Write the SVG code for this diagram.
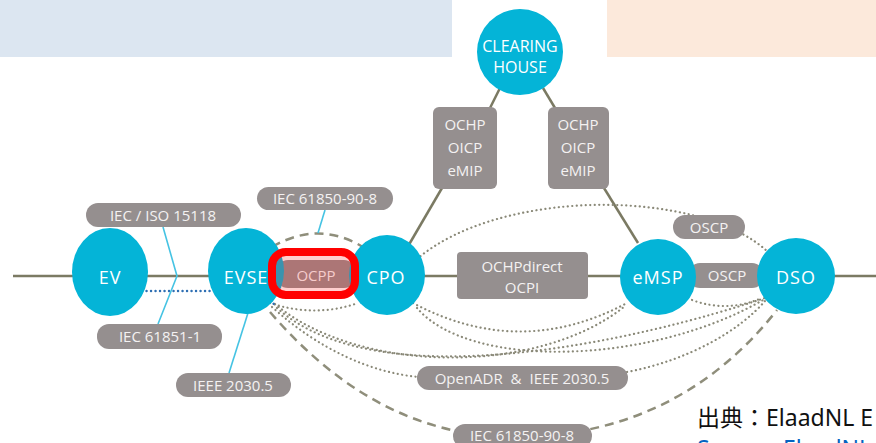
<svg xmlns="http://www.w3.org/2000/svg" width="876" height="443" viewBox="0 0 876 443">
<style>
.bg-blue{fill:#dce6f1}
.bg-peach{fill:#fce9db}
.circ{fill:#04b4d7}
.ntext{fill:#ffffff;font-family:"Open Sans","Noto Sans",sans-serif;font-size:18px;letter-spacing:1px;text-anchor:middle;dominant-baseline:central}
.chtext{fill:#ffffff;font-family:"Open Sans","Noto Sans",sans-serif;font-size:16px;text-anchor:middle;dominant-baseline:central}
.pill{fill:#958f8f}
.ptext{fill:#f4f2f2;font-family:"Open Sans","Noto Sans",sans-serif;font-size:15px;text-anchor:middle;dominant-baseline:central}
.main{stroke:#7b7a63;stroke-width:2.5;fill:none}
.solid{stroke:#7b7a63;stroke-width:2.5;fill:none}
.dash{stroke:#8f8e7b;stroke-width:2.5;fill:none;stroke-dasharray:9 6}
.dot{stroke:#8a8978;stroke-width:2.2;fill:none;stroke-dasharray:0.1 4.4;stroke-linecap:round}
.bdot{stroke:#2f6fb3;stroke-width:2.4;fill:none;stroke-dasharray:0.1 4.4;stroke-linecap:round}
.cyan{stroke:#45c3e3;stroke-width:1.6;fill:none}
.src{font-family:"Noto Sans","Noto Sans CJK JP",sans-serif;font-size:23px}
</style>
<rect class="bg-blue" x="0" y="0" width="452" height="57"/>
<rect class="bg-peach" x="607" y="0" width="269" height="57"/>

<g id="connectors">
  <line class="main" x1="13" y1="276" x2="876" y2="276"/>
  <line class="solid" x1="490" y1="108" x2="500" y2="88"/>
  <line class="solid" x1="555" y1="108" x2="543" y2="88"/>
  <line class="solid" x1="442" y1="188" x2="407" y2="248"/>
  <line class="solid" x1="604" y1="188" x2="638" y2="243"/>
  <path class="dash" d="M272,247 Q318,220 363,247"/>
  <path class="dash" d="M270,312 Q380,440 522,437 Q680,433 777,310"/>
  <path class="dot" d="M417,259 C500,188 700,188 768,252"/>
  <path class="dot" d="M270,303 Q315,318 358,303"/>
  <path class="dot" d="M413,303 Q520,360 627,303"/>
  <path class="dot" d="M417,308 C470,370 650,365 763,300"/>
  <path class="dot" d="M275,304 C360,375 540,375 625,306"/>
  <path class="dot" d="M277,308 C380,400 640,340 765,298"/>
  <path class="dot" d="M272,307 C320,350 370,372 418,377"/>
  <path class="dot" d="M627,372 C690,360 740,330 765,301"/>
  <path class="dot" d="M692,300 Q727,313 762,298"/>
  <path class="bdot" d="M97,291 L245,291 Q262,292 276,306"/>
  <polyline class="cyan" points="163,227 177,276 158,324"/>
  <line class="cyan" x1="248" y1="313" x2="229" y2="373"/>
  <line class="cyan" x1="325" y1="210" x2="318" y2="233"/>
</g>

<g id="ocpp-label">
  <rect class="pill" x="276" y="260" width="80" height="28" rx="12"/>
</g>
<g id="oscp-bottom">
  <rect class="pill" x="688" y="263" width="76" height="25" rx="12"/>
</g>

<g id="ev"><ellipse class="circ" cx="110" cy="272" rx="38" ry="44"/><text class="ntext" x="110" y="277">EV</text></g>
<g id="evse"><ellipse class="circ" cx="246" cy="271" rx="38" ry="43"/><text class="ntext" x="246" y="277">EVSE</text></g>
<g id="cpo"><ellipse class="circ" cx="387" cy="275" rx="38" ry="40"/><text class="ntext" x="386" y="277">CPO</text></g>
<g id="emsp"><ellipse class="circ" cx="658" cy="277" rx="38" ry="38"/><text class="ntext" x="658" y="277">eMSP</text></g>
<g id="dso"><ellipse class="circ" cx="796" cy="276" rx="39" ry="38"/><text class="ntext" x="796" y="277">DSO</text></g>
<g id="clearing-house"><ellipse class="circ" cx="520" cy="52" rx="43" ry="43"/><text class="chtext" x="520" y="46">CLEARING</text><text class="chtext" x="520" y="67">HOUSE</text></g>

<g id="ocpp-highlight">
  <rect x="272" y="252" width="83" height="43" rx="14" fill="#ff2020" fill-opacity="0.22"/>
  <rect x="272" y="252" width="83" height="43" rx="14" fill="none" stroke="#ff0000" stroke-width="8"/>
  <text class="ptext" x="316" y="275" style="fill:#f6cccc">OCPP</text>
</g>
<g id="oscp-bottom-text"><text class="ptext" x="727" y="275">OSCP</text></g>

<g id="iec15118"><rect class="pill" x="86" y="203" width="155" height="24" rx="12"/><text class="ptext" x="163" y="215">IEC / ISO 15118</text></g>
<g id="iec61851"><rect class="pill" x="97" y="324" width="125" height="25" rx="12"/><text class="ptext" x="160" y="336">IEC 61851-1</text></g>
<g id="ieee2030"><rect class="pill" x="176" y="373" width="115" height="24" rx="12"/><text class="ptext" x="233" y="385">IEEE 2030.5</text></g>
<g id="iec61850-top"><rect class="pill" x="257" y="187" width="136" height="23" rx="11.5"/><text class="ptext" x="325" y="198">IEC 61850-90-8</text></g>
<g id="ochp-left"><rect class="pill" x="433" y="107" width="64" height="82" rx="6"/><text class="ptext" x="465" y="124">OCHP</text><text class="ptext" x="465" y="147">OICP</text><text class="ptext" x="465" y="170">eMIP</text></g>
<g id="ochp-right"><rect class="pill" x="548" y="107" width="61" height="82" rx="6"/><text class="ptext" x="578" y="124">OCHP</text><text class="ptext" x="578" y="147">OICP</text><text class="ptext" x="578" y="170">eMIP</text></g>
<g id="ochpdirect"><rect class="pill" x="457" y="252" width="131" height="47" rx="4"/><text class="ptext" x="522" y="266">OCHPdirect</text><text class="ptext" x="522" y="287">OCPI</text></g>
<g id="oscp-top"><rect class="pill" x="673" y="215" width="72" height="24" rx="12"/><text class="ptext" x="709" y="227">OSCP</text></g>
<g id="openadr"><rect class="pill" x="417" y="366" width="211" height="24" rx="12"/><text class="ptext" x="522" y="378">OpenADR<tspan style="word-spacing:4px"> &amp; </tspan>IEEE 2030.5</text></g>
<g id="iec61850-bottom"><rect class="pill" x="453" y="424" width="139" height="24" rx="12"/><text class="ptext" x="522" y="435">IEC 61850-90-8</text></g>

<g id="source">
  <text class="src" x="697" y="426" fill="#111111">出典：ElaadNL E</text>
  <text class="src" x="697" y="457" fill="#0563c1">Source: ElaadNL</text>
</g>
</svg>
